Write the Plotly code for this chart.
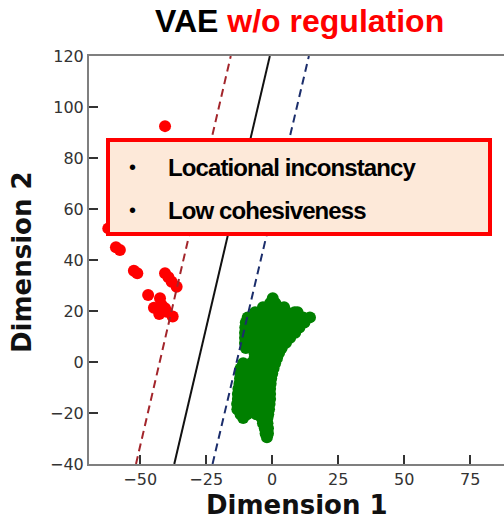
import plotly.graph_objects as go

# ---- data ----
red_x = [-40.6, -62.1, -59.2, -57.7, -52.4, -51.1, -40.6, -39.3, -38.1, -36.2,
         -47.0, -42.5, -44.8, -42.8, -40.6, -40.0, -37.7, -41.9]
red_y = [92.5, 52.4, 45.0, 43.9, 35.8, 34.8, 34.8, 33.2, 31.5, 29.5,
         26.3, 25.0, 21.3, 18.8, 21.1, 19.7, 17.8, 22.4]

# green cluster, read row by row (y value: x positions)
green_rows = {
    25.0: [0.2],
    23.0: [-0.8, 1.2],
    21.5: [-3.5, -0.5, 2.5, 4.5],
    19.5: [-6.5, -3.5, -0.5, 2.5, 5.5, 8.5, 9.6],
    17.5: [-9.3, -6.3, -3.3, -0.3, 2.7, 5.7, 8.7, 11.7, 14.3],
    15.5: [-10, -7, -4, -1, 2, 5, 8, 11, 12.2],
    13.5: [-10.2, -7.2, -4.2, -1.2, 1.8, 4.8, 7.8, 10.3],
    11.5: [-10.3, -7.3, -4.3, -1.3, 1.7, 4.7, 7.7, 8.7],
    9.5: [-10.3, -7.3, -4.3, -1.3, 1.7, 4.7, 6.8],
    7.5: [-10.3, -7.3, -4.3, -1.3, 1.7, 5.2],
    5.5: [-10, -7, -4, -1, 2, 3.6],
    3.5: [-6.7, -3.7, -0.7, 2.6],
    1.5: [-6.7, -3.7, -0.7, 1.8],
    -0.5: [-11, -8, -5, -2, 1.1],
    -2.5: [-12, -9, -6, -3, 0.5],
    -4.5: [-12, -9, -6, -3, 0],
    -6.5: [-12.2, -9.2, -6.2, -3.2, -0.4],
    -8.5: [-12.4, -9.4, -6.4, -3.4, -0.6],
    -10.5: [-12.8, -9.8, -6.8, -3.8, -0.8],
    -12.5: [-13, -10, -7, -4, -0.8],
    -14.5: [-13, -10, -7, -4, -0.8],
    -16.5: [-13.3, -10.3, -7.3, -4.3, -1],
    -18.5: [-13.2, -10.2, -7.2, -4.2, -1.2],
    -20.5: [-12, -9.5, -6, -3.5, -1.5],
    -22.0: [-11, -4, -1.8],
    -24.0: [-3.5, -1.8],
    -26.0: [-2.8, -1.6],
    -28.0: [-2.5, -1.6],
    -29.5: [-2],
}
green_x = [x for yv, xs in green_rows.items() for x in xs]
green_y = [yv for yv, xs in green_rows.items() for x in xs]

# decision boundary lines: x at y=-40 and at y=120
line_names = ["margin red", "boundary", "margin blue"]
line_x_bottom = [-51.6, -37.1, -22.6]
line_x_top = [-15.7, -0.9, 13.9]
line_y_ends = [-40, 120]
line_colors = ["#a3252b", "#111111", "#1b2d6b"]
line_dashes = ["dash", "solid", "dash"]

x_ticks = [-50, -25, 0, 25, 50, 75]
y_ticks = [-40, -20, 0, 20, 40, 60, 80, 100, 120]

fig = go.Figure()
fig.add_trace(go.Scatter(x=red_x, y=red_y, mode="markers",
                         marker=dict(color="#ff0000", size=12, line=dict(width=0)),
                         showlegend=False))
fig.add_trace(go.Scatter(x=green_x, y=green_y, mode="markers",
                         marker=dict(color="#008000", size=12, line=dict(width=0)),
                         showlegend=False))
for name, xb, xt, c, d in zip(line_names, line_x_bottom, line_x_top, line_colors, line_dashes):
    fig.add_trace(go.Scatter(x=[xb, xt], y=line_y_ends, mode="lines", name=name,
                             line=dict(color=c, width=2, dash=("8px,5px" if d == "dash" else d)),
                             showlegend=False, cliponaxis=True))

W, H = 504, 520
L, R, T, B = 89, 0, 56, 56
pw, ph = W - L - R, H - T - B

def px(xp):
    return (xp - L) / pw

def py(yp):
    return (H - B - yp) / ph

fig.add_shape(type="rect", xref="paper", yref="paper",
              x0=px(108), x1=px(490), y0=py(234), y1=py(140),
              fillcolor="#fde9d9", line=dict(color="#ff0000", width=4), layer="above")

box_font = dict(family="Liberation Sans, Arial", size=24, color="black")
for txt, yp in [("Locational inconstancy", 167), ("Low cohesiveness", 210)]:
    fig.add_annotation(xref="paper", yref="paper", x=px(132), y=py(yp), text="•",
                       showarrow=False, xanchor="center", yanchor="middle",
                       font=dict(family="Liberation Sans, Arial", size=20, color="black"))
    fig.add_annotation(xref="paper", yref="paper", x=px(166), y=py(yp),
                       text="<b><span style='letter-spacing:-0.9px'>" + txt + "</span></b>",
                       showarrow=False, xanchor="left", yanchor="middle", font=box_font)

fig.add_annotation(xref="paper", yref="paper", x=px(299), y=py(21),
                   text="<b>VAE <span style='color:#ff0000'>w/o regulation</span></b>",
                   showarrow=False, xanchor="center", yanchor="middle",
                   font=dict(family="Liberation Sans, Arial", size=32, color="black"))

fig.add_annotation(xref="paper", yref="paper", x=px(297), y=py(505),
                   text="<b>Dimension 1</b>", showarrow=False,
                   xanchor="center", yanchor="middle",
                   font=dict(family="DejaVu Sans", size=26, color="#111"))
fig.add_annotation(xref="paper", yref="paper", x=px(22), y=py(262),
                   text="<b>Dimension 2</b>", showarrow=False, textangle=-90,
                   xanchor="center", yanchor="middle",
                   font=dict(family="DejaVu Sans", size=26, color="#111"))

axis_common = dict(showgrid=False, zeroline=False, showline=True,
                   linecolor="#7f7f7f", linewidth=2,
                   ticks="inside", ticklen=9, tickwidth=1.5, tickcolor="#333",
                   tickfont=dict(family="DejaVu Sans", size=16, color="#333"))

fig.update_layout(
    width=W, height=H,
    margin=dict(l=L, r=R, t=T, b=B),
    paper_bgcolor="white", plot_bgcolor="white",
    xaxis=dict(range=[-69.4, 87.8], tickvals=x_ticks, mirror=True, **axis_common),
    yaxis=dict(range=[-40, 120], tickvals=y_ticks, mirror=False, **axis_common),
)

fig.write_html("out.html")
